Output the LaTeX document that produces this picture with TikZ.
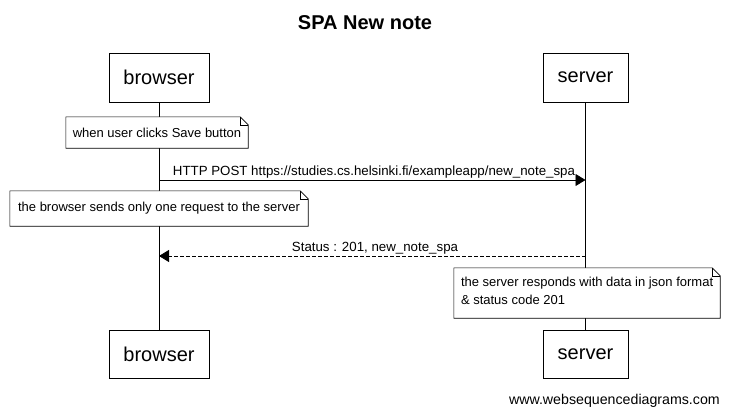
\documentclass[tikz,border=0pt]{standalone}
\usepackage{fontspec}
\setmainfont{Liberation Sans}
\usetikzlibrary{arrows.meta,calc}
\begin{document}
\begin{tikzpicture}[x=1pt,y=-1pt,
  actor/.style={draw,fill=white,line width=0.9pt,font=\fontsize{20}{24}\selectfont,inner sep=0pt},
  notebox/.style={inner sep=0pt,font=\fontsize{13}{18}\selectfont,align=left},
  msg/.style={line width=0.8pt,-{Triangle[length=10pt,width=12pt]}},
  lbl/.style={font=\fontsize{13.3}{15}\selectfont,inner sep=0pt,anchor=base},
  life/.style={line width=0.8pt},
  notefr/.style={draw,fill=white,line width=0.6pt}]
\useasboundingbox (0,0) rectangle (729,415);
\fill[white] (0,0) rectangle (729,415);
% title
\node[font=\bfseries\fontsize{20}{24}\selectfont,anchor=base] (title) at (365,29) {SPA New note};
% actors
\node[actor,minimum width=100pt,minimum height=49pt] (bt) at (159,77.5) {browser};
\node[actor,minimum width=85pt,minimum height=49pt] (st) at (585.5,77.5) {server};
\node[actor,minimum width=100pt,minimum height=48pt] (bb) at (159,354) {browser};
\node[actor,minimum width=85pt,minimum height=48pt] (sb) at (585.5,354) {server};
% lifelines
\draw[life] (bt.south) -- (bb.north);
\draw[life] (st.south) -- (sb.north);
% note 1
\node[notebox,minimum width=182pt,minimum height=31pt] (n1) at (157,132.5) {};
\draw[notefr] (n1.north west) -- ($(n1.north east)+(-8pt,0)$) -- ($(n1.north east)+(0,-8pt)$) -- (n1.south east) -- (n1.south west) -- cycle;
\draw[line width=0.6pt] ($(n1.north east)+(-8pt,0)$) |- ($(n1.north east)+(0,-8pt)$);
\node[notebox] (t1) at (n1) {when user clicks Save button};
% message 1
\coordinate (m1a) at (bt.south |- 0,180);
\coordinate (m1b) at (st.south |- 0,180);
\draw[msg] (m1a) -- (m1b);
\node[lbl] (l1) at (374,175) {HTTP POST https://studies.cs.helsinki.fi/exampleapp/new\_note\_spa};
% note 2
\node[notebox,minimum width=298pt,minimum height=35pt] (n2) at (159,208.5) {};
\draw[notefr] (n2.north west) -- ($(n2.north east)+(-8pt,0)$) -- ($(n2.north east)+(0,-8pt)$) -- (n2.south east) -- (n2.south west) -- cycle;
\draw[line width=0.6pt] ($(n2.north east)+(-8pt,0)$) |- ($(n2.north east)+(0,-8pt)$);
\node[notebox] (t2) at (n2) {the browser sends only one request to the server};
% message 2
\coordinate (m2a) at (st.south |- 0,256);
\coordinate (m2b) at (bt.south |- 0,256);
\draw[msg,dashed,dash pattern=on 4pt off 2pt] (m2a) -- (m2b);
\node[lbl] (l2) at (375,251) {Status : 201, new\_note\_spa};
% note 3
\node[notebox,minimum width=266pt,minimum height=50pt] (n3) at (587,293) {};
\draw[notefr] (n3.north west) -- ($(n3.north east)+(-8pt,0)$) -- ($(n3.north east)+(0,-8pt)$) -- (n3.south east) -- (n3.south west) -- cycle;
\draw[line width=0.6pt] ($(n3.north east)+(-8pt,0)$) |- ($(n3.north east)+(0,-8pt)$);
\node[notebox,anchor=north west] (t3) at ($(n3.north west)+(7pt,-9pt)$) {the server responds with data in json format\\\& status code 201};
% footer
\node[font=\fontsize{14.2}{17}\selectfont,anchor=base east,inner sep=0pt] (foot) at (720,404) {www.websequencediagrams.com};
\end{tikzpicture}
\end{document}
